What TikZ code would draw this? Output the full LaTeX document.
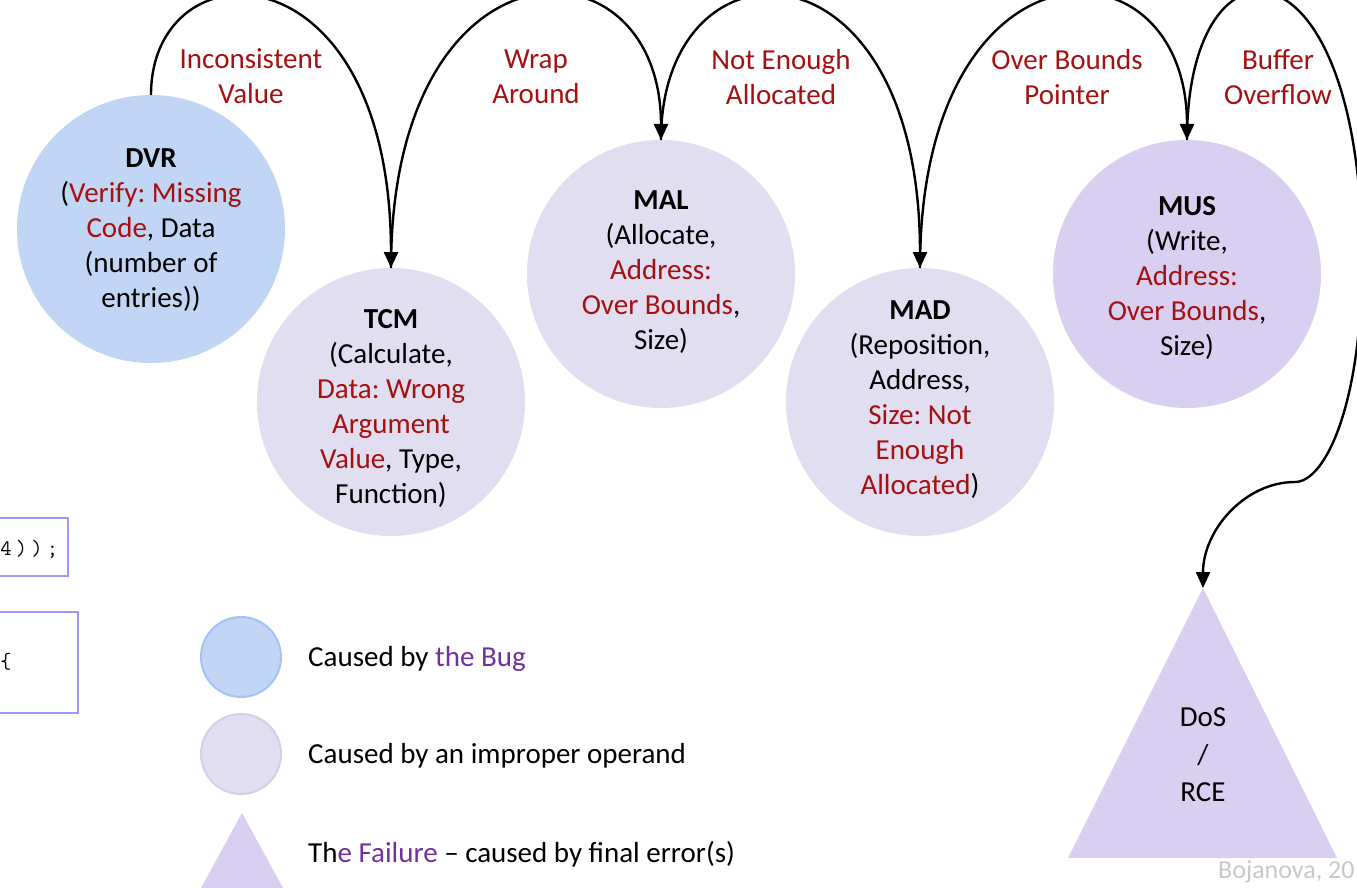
\documentclass[tikz,border=0pt]{standalone}
\usepackage{fontspec}
\setmainfont{Carlito}
\usetikzlibrary{arrows.meta}
\frenchspacing

\definecolor{errred}{RGB}{165,16,16}
\definecolor{bugpurple}{RGB}{112,48,160}
\definecolor{bugblue}{RGB}{193,214,245}
\definecolor{bugblueedge}{RGB}{164,194,244}
\definecolor{opgrey}{RGB}{224,222,240}
\definecolor{opgreyedge}{RGB}{212,207,230}
\definecolor{faillilac}{RGB}{216,207,241}
\definecolor{codeedge}{RGB}{153,153,255}
\definecolor{credit}{RGB}{200,200,200}

\newcommand{\er}[1]{\textcolor{errred}{#1}}
\newcommand{\cc}[1]{\makebox[15.5pt]{#1}}

\begin{document}
\begin{tikzpicture}[x=1pt,y=1pt,
  font=\fontsize{29}{35}\selectfont,
  weakness/.style={circle, minimum size=268pt, inner sep=0pt, outer sep=0pt},
  bugnode/.style={weakness, fill=bugblue},
  opnode/.style={weakness, fill=opgrey},
  lastnode/.style={weakness, fill=faillilac},
  ctext/.style={align=center, inner sep=0pt},
  flow/.style={line width=2.4pt, -{Triangle[length=16pt,width=14pt]}},
  errlabel/.style={align=center, text=errred, inner sep=0pt},
  legtext/.style={anchor=base west, inner sep=0pt},
  legcircle/.style={circle, minimum size=80pt, inner sep=0pt, line width=2pt},
  codebox/.style={draw=codeedge, line width=2.5pt},
  codetext/.style={inner sep=0pt, font=\ttfamily\fontsize{22}{24}\selectfont}]

\useasboundingbox (0,0) rectangle (1357,-888);

% chain of weaknesses
\node[bugnode] (dvr) at (151,-229) {};
\node[ctext] (dvrtxt) at (151,-230)
  {\textbf{DVR}\\(\er{Verify: Missing}\\\er{Code}, Data\\(number of\\entries))};

\node[opnode] (tcm) at (391,-402) {};
\node[ctext] (tcmtxt) at (391,-408)
  {\textbf{TCM}\\(Calculate,\\\er{Data: Wrong}\\\er{Argument}\\\er{Value}, Type,\\Function)};

\node[opnode] (mal) at (661,-274) {};
\node[ctext] (maltxt) at (661,-272)
  {\textbf{MAL}\\(Allocate,\\\er{Address:}\\\er{Over Bounds},\\Size)};

\node[opnode] (mad) at (920,-402) {};
\node[ctext] (madtxt) at (920,-400)
  {\textbf{MAD}\\(Reposition,\\Address,\\\er{Size: Not}\\\er{Enough}\\\er{Allocated})};

\node[lastnode] (mus) at (1187,-274) {};
\node[ctext] (mustxt) at (1187,-278)
  {\textbf{MUS}\\(Write,\\\er{Address:}\\\er{Over Bounds},\\Size)};

% failure
\coordinate (apex) at (1203,-588);
\fill[faillilac] (apex) -- (1337,-858) -- (1068,-858) -- cycle;
\node[ctext, font=\fontsize{29}{37.5}\selectfont] (dos) at (1203,-755) {DoS\\/\\RCE};

% error transitions
\draw[flow] (dvr.north) to[out=90,in=90,out distance=153pt,in distance=326pt] (tcm.north);
\draw[flow] (tcm.north) to[out=90,in=90,out distance=338pt,in distance=210pt] (mal.north);
\draw[flow] (mal.north) to[out=90,in=90,out distance=210pt,in distance=338pt] (mad.north);
\draw[flow] (mad.north) to[out=90,in=90,out distance=338pt,in distance=210pt] (mus.north);
\coordinate (bendA) at (1362,-260);
\coordinate (bendB) at (1295,-482);
\draw[flow] (mus.north) .. controls +(0,218) and (1362,70) .. (bendA)
  .. controls (1362,-405) and (1325,-482) .. (bendB)
  .. controls (1245,-482) and (1203,-530) .. (apex);

\node[errlabel] (lab1) at (251,-76) {Inconsistent\\Value};
\node[errlabel] (lab2) at (536,-77) {Wrap\\Around};
\node[errlabel] (lab3) at (781,-77) {Not Enough\\Allocated};
\node[errlabel] (lab4) at (1067,-77) {Over Bounds\\Pointer};
\node[errlabel] (lab5) at (1278,-77) {Buffer\\Overflow};

% code fragments
\draw[codebox] (-300,-518) rectangle (68,-576);
\node[codetext, anchor=west] (code1) at (-2,-549) {\cc{4}\cc{)}\cc{)}\cc{;}};
\draw[codebox] (-300,-612) rectangle (78,-713);
\node[codetext, anchor=west] (code2) at (0,-662) {\{};

% legend
\node[legcircle, fill=bugblue, draw=bugblueedge] (legbug) at (241,-657) {};
\node[legcircle, fill=opgrey, draw=opgreyedge] (legop) at (241,-754) {};
\fill[faillilac] (242,-813) -- (289.6,-900) -- (194.4,-900) -- cycle;
\node[legtext] (leg1) at (308,-666) {Caused by \textcolor{bugpurple}{the Bug}};
\node[legtext] (leg2) at (308,-763) {Caused by an improper operand};
\node[legtext] (leg3) at (308,-862) {Th\textcolor{bugpurple}{e Failure} -- caused by final error(s)};

\node[anchor=base west, inner sep=0pt, text=credit, font=\fontsize{26}{30}\selectfont] (credit) at (1218,-878) {Bojanova, 20};
\end{tikzpicture}
\end{document}
